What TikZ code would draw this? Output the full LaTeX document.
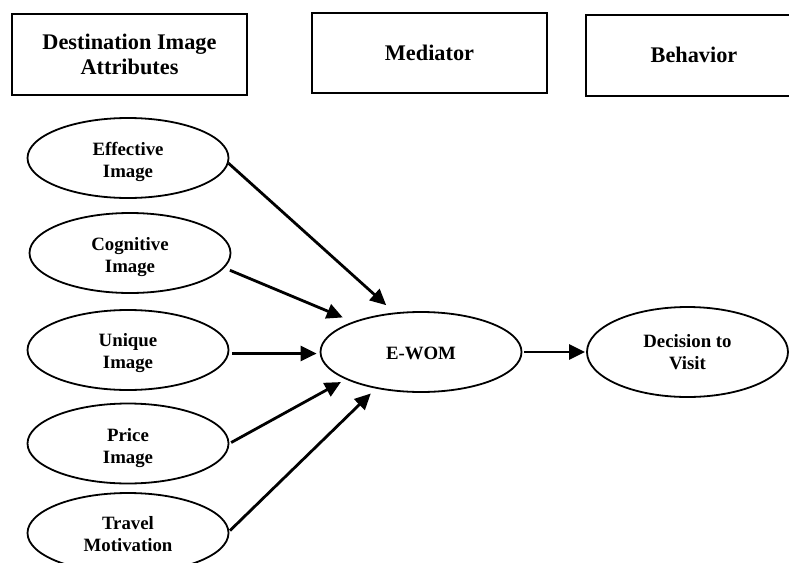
\documentclass[tikz,border=0pt]{standalone}
\usepackage{fontspec}
\setmainfont{Liberation Serif}
\usetikzlibrary{shapes.geometric,arrows.meta}
\begin{document}
\begin{tikzpicture}[x=1pt,y=-1pt,
  hbox/.style={draw,line width=2pt,rectangle,inner sep=0pt,align=center,
    font=\fontsize{22.3}{25}\selectfont\bfseries},
  oval/.style={draw,line width=1.8pt,ellipse,inner sep=0pt,minimum width=201pt,
    minimum height=80pt},
  txt/.style={align=center,inner sep=0pt,font=\fontsize{18.8}{22}\selectfont\bfseries},
  arr/.style={line width=2.8pt,-{Triangle[length=16pt,width=15pt]}}]
\clip (0,0) rectangle (789,562);
\fill[white] (0,0) rectangle (789,562);
% header boxes
\node[hbox,minimum width=235pt,minimum height=81pt] (hA) at (129.5,54.5) {Destination Image\\Attributes};
\node[hbox,minimum width=235pt,minimum height=80pt] (hB) at (429.5,53) {Mediator};
\node[hbox,minimum width=216pt,minimum height=81pt] (hC) at (694,55) {Behavior};
% ellipses
\node[oval] (eff) at (128,158) {};
\node[oval] (cog) at (130,253) {};
\node[oval] (uni) at (128,350) {};
\node[oval] (pri) at (128,443.5) {};
\node[oval] (tra) at (128,533) {};
\node[oval] (ewom) at (421,352) {};
\node[oval,minimum height=90pt] (dec) at (687.5,352) {};
% texts
\node[txt] (effT) at ([yshift=-4pt]eff.center) {Effective\\Image};
\node[txt] (cogT) at ([yshift=-4.5pt]cog.center) {Cognitive\\Image};
\node[txt] (uniT) at ([yshift=-3pt]uni.center) {Unique\\Image};
\node[txt] (priT) at ([yshift=-5pt]pri.center) {Price\\Image};
\node[txt] (traT) at ([yshift=-1.5pt]tra.center) {Travel\\Motivation};
\node[txt] (ewomT) at ([yshift=-1pt]ewom.center) {E-WOM};
\node[txt] (decT) at (dec.center) {Decision to\\Visit};
% arrows
\draw[arr,shorten >=11pt] (eff.-3) -- (ewom.124);
\draw[arr,shorten <=6pt,shorten >=11pt] (cog.-9) -- (ewom.156);
\draw[arr,shorten <=3pt,shorten >=3pt] (uni.-2) -- (uni.-2 -| ewom.west);
\draw[arr,shorten <=2pt,shorten >=5.5pt] (pri.0) -- (ewom.200);
\draw[arr,shorten <=1pt,shorten >=7pt] (tra.1) -- (ewom.219);
\draw[arr,shorten <=2pt,shorten >=1pt] (ewom.east) -- (dec.west);
\end{tikzpicture}
\end{document}
